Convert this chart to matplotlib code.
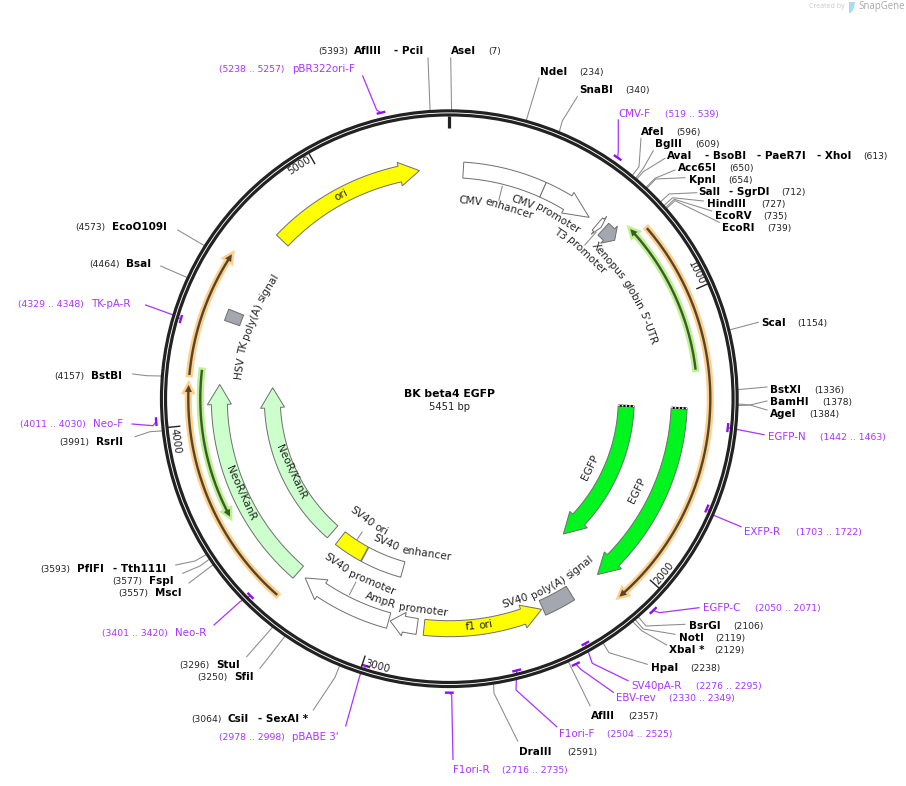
import numpy as np
import matplotlib

matplotlib.use("Agg")
import matplotlib.pyplot as plt
from matplotlib.patches import Circle, Polygon


TITLE = "BK beta4 EGFP"
TOTAL_BP = 5451
RULER_TICKS = [1000, 2000, 3000, 4000, 5000]

# features: bp at the flat end, bp at the tip (equal sense of travel gives the direction)
FEATURE_NAMES = [
    "CMV enhancer", "CMV promoter", "T3 promoter", "Xenopus globin 5'-UTR",
    "EGFP", "EGFP", "SV40 poly(A) signal", "f1 ori", "AmpR promoter",
    "SV40 promoter", "SV40 ori", "SV40 enhancer", "NeoR/KanR", "NeoR/KanR",
    "HSV TK poly(A) signal", "ori",
]
FEATURE_START = [53, 366, 610, 640, 1398, 1398, 2242, 2821, 2847, 2957, 3159, 2956, 3347, 3350, 4379, 4746]
FEATURE_END = [366, 570, 629, 700, 2118, 2118, 2362, 2367, 2951, 3313, 3301, 3156, 4142, 4142, 4423, 5338]

# translated frames, thin arrows
ORF_START = [745, 1261, 3350, 4167, 4189]
ORF_END = [2110, 709, 4134, 4597, 3660]

SITE_NAMES = [
    ["AseI"], ["AflIII", "PciI"], ["NdeI"], ["SnaBI"], ["AfeI"], ["BglII"],
    ["AvaI", "BsoBI", "PaeR7I", "XhoI"], ["Acc65I"], ["KpnI"], ["SalI", "SgrDI"],
    ["HindIII"], ["EcoRV"], ["EcoRI"], ["ScaI"], ["BstXI"], ["BamHI"], ["AgeI"],
    ["BsrGI"], ["NotI"], ["XbaI *"], ["HpaI"], ["AflII"], ["DraIII"],
    ["CsiI", "SexAI *"], ["SfiI"], ["StuI"], ["MscI"], ["FspI"], ["PflFI", "Tth111I"],
    ["RsrII"], ["BstBI"], ["BsaI"], ["EcoO109I"],
]
SITE_BP = [
    7, 5393, 234, 340, 596, 609, 613, 650, 654, 712, 727, 735, 739, 1154, 1336, 1378, 1384,
    2106, 2119, 2129, 2238, 2357, 2591, 3064, 3250, 3296, 3557, 3577, 3593, 3991, 4157, 4464, 4573,
]

PRIMER_NAMES = [
    "CMV-F", "EGFP-N", "EXFP-R", "EGFP-C", "SV40pA-R", "EBV-rev", "F1ori-F", "F1ori-R",
    "pBABE 3'", "Neo-R", "Neo-F", "TK-pA-R", "pBR322ori-F",
]
PRIMER_START = [519, 1442, 1703, 2050, 2276, 2330, 2504, 2716, 2978, 3401, 4011, 4329, 5238]
PRIMER_END = [539, 1463, 1722, 2071, 2295, 2349, 2525, 2735, 2998, 3420, 4030, 4348, 5257]

# layout, all in image pixels
CX, CY, RING_R = 449.3, 398.7, 285.8
FEATURE_R = [229, 229, 229, 229, 230, 177, 229, 230, 230, 230, 177, 177, 230, 177, 230, 230]
FEATURE_HEAD = [0, 26, 3, 8, 21, 21, 0, 20, 14, 20, 0, 0, 20, 20, 0, 20]
FEATURE_COLOR = [
    "white", "white", "white", "#A3A7AF", "#00F51F", "#00F51F", "#A3A7AF", "#FFFF00", "white",
    "white", "#FFFF00", "white", "#CCFFCC", "#CCFFCC", "#A3A7AF", "#FFFF00",
]
LABEL_THETA = [13.7, 27.5, 41.4, 59, 115.9, 115.9, 151.8, 172.5, 191.8, 207, 213.4, 194, 245.7, 245.1, 290.6, 332]
LABEL_R = [199, 210, 198.5, 211, 209, 156.5, 213, 229, 213, 200, 147, 157, 229, 175, 212, 230.7]
LEADERS = [(14, 219, 204.6), (41.4, 222, 205), (213.2, 168, 159.3), (207, 220, 206)]
ORF_R = [261, 248, 261, 261, 249]
ORF_GLOW = ["#FFCF8C", "#BDF08F", "#FFCF8C", "#FFCF8C", "#BDF08F"]
ORF_LINE = ["#54452B", "#3A5B2A", "#54452B", "#54452B", "#3A5B2A"]

SITE_Y = [50, 50, 71, 89, 131, 143, 155, 167, 179, 191, 203, 215, 227, 322, 389, 401, 413,
          625, 637, 649, 667, 715, 751, 718, 676, 664, 592, 580, 568, 441, 375, 263, 226]
SITE_NAME_X = [
    [451], [354, 394], [540], [579], [641], [655], [667, 705, 757, 817], [678], [689], [698, 729],
    [707], [715], [722], [761], [770], [770], [770],
    [689], [679], [669], [651], [591], [519],
    [228, 258], [234], [216], [155], [149], [77, 113],
    [96], [91], [126], [112],
]
SITE_NUM_X = [488, 318, 579, 625, 676, 695, 863, 729, 728, 781, 761, 763, 767, 797, 814, 822, 809,
              733, 715, 714, 690, 628, 567, 191, 197, 179, 118, 112, 40, 59, 54, 89, 75]
SITE_PATH = [
    [(450.7, 58)], [(428, 58)], [(539, 78)], [(562.3, 121), (577.3, 96.7)],
    [(639, 166.7), (641, 138.3)], [(642.7, 169.3), (653.3, 150.7)], [(643.3, 171.7), (665, 158.3)],
    [(655, 178.3), (675, 170)], [(655.7, 179), (685, 177.7)], [(669, 194), (696.7, 192.7)],
    [(672.7, 197.7), (703.3, 201)], [(674.3, 199.3), (711.7, 211)], [(675, 200.7), (719.3, 222.3)],
    [(758.3, 322.3)], [(767, 387)], [(750, 405), (767, 401)], [(750, 405), (767, 410)],
    [(646, 626), (685, 624.3)], [(643.3, 629), (675, 634.3)], [(641.7, 630.7), (666.7, 645)],
    [(609, 652.7), (647.3, 664.3)], [(590, 705.7)], [(494, 693.3), (517.7, 741)],
    [(335, 677.3), (313.3, 710)], [(260, 668.3)], [(246.7, 656.7)], [(189, 583)],
    [(200, 566), (182.7, 573.3)], [(195, 561), (175.7, 565)],
    [(150, 431.7), (135, 436.7)], [(146.7, 375.7), (132.7, 374)], [(160.7, 266)], [(177.7, 230)],
]

PRIMER_R = [294, 280, 280, 294, 280, 294, 280, 294, 280, 280, 294, 280, 294]
PRIMER_NAME_XY = [
    (618, 113), (768, 436), (744, 531), (703, 607), (631, 685), (616, 697), (559, 733),
    (453, 769), (292, 736), (175, 632), (93, 423), (91, 303), (292, 68),
]
PRIMER_RANGE_X = [665, 820, 796, 755, 696, 669, 607, 502, 219, 102, 20, 18, 219]
PRIMER_PATH = [
    [(618.3, 150.7), (618.3, 120)], [(764, 434.7)], [(713, 515), (741, 526.7)],
    [(659.3, 612.7), (699, 607.7)], [(592.3, 663.3), (628, 680.7)], [(580.7, 669.3), (613.3, 692.3)],
    [(516, 690), (556.7, 726.7)], [(451.7, 695), (453, 759.3)], [(360, 675), (345.7, 726)],
    [(240, 601.7), (214, 625)], [(153, 425.7), (132, 424)], [(173.3, 315), (145.7, 305)],
    [(376.7, 110), (362.7, 76)],
]

INK = "#222222"
PURPLE = "#AA33FF"
BAR_PURPLE = "#8F10EE"
GREY_LINE = "#8A8A8A"
NAME_PT, NUM_PT, LABEL_PT, PRIMER_PT, RANGE_PT = 7.5, 6.6, 7.6, 7.4, 6.7


def bp_theta(bp: float) -> float:
    """
    Degrees clockwise from the top of the ring.
    """
    return bp / TOTAL_BP * 360.0


def polar(theta: float, r: float) -> tuple:
    """
    Pixel position for a clockwise angle and a radius.
    """
    t = np.radians(theta)
    return CX + r * np.sin(t), CY - r * np.cos(t)


def draw_arrow(ax, start, end, r, width, head_px, head_width, **style) -> None:
    """
    Curved box or arrow, from bp start to bp end.
    """
    t0, t1 = bp_theta(start), bp_theta(end)
    sense = 1.0 if t1 > t0 else -1.0
    t_base = t1 - sense * np.degrees(head_px / r)
    ts = np.linspace(t0, t_base, 80)
    outer = [polar(t, r + width / 2) for t in ts]
    inner = [polar(t, r - width / 2) for t in ts[::-1]]
    if head_px > 0:
        head = [polar(t_base, r + head_width / 2), polar(t1, r), polar(t_base, r - head_width / 2)]
    else:
        head = []
    ax.add_patch(Polygon(outer + head + inner, closed=True, **style))


def curved_label(fig, ax, text, theta, r, **style) -> None:
    """
    Word by word text that follows the ring, centred on theta.
    """
    flipped = 90 < (theta % 360) < 270
    renderer = fig.canvas.get_renderer()

    def width_of(s):
        t = ax.text(0, 0, s, **style)
        w = t.get_window_extent(renderer).width
        t.remove()
        return w

    words = text.split(" ")
    widths = [width_of(w) for w in words]
    gap = (width_of("a a") - width_of("aa")) * 0.85
    total = sum(widths) + gap * (len(words) - 1)
    s = -total / 2
    for word, w in zip(words, widths):
        mid = s + w / 2
        delta = np.degrees(mid / r)
        th = theta - delta if flipped else theta + delta
        rot = 180 - th if flipped else -th
        x, y = polar(th, r)
        ax.text(x, y, word, rotation=rot, rotation_mode="anchor", ha="center", va="center", **style)
        s += w + gap


def base_text(ax, x, y_mid, text, **style) -> None:
    """
    Left aligned text, y is the middle of the capitals.
    """
    ax.text(x, y_mid + 3.8, text, ha="left", va="baseline", **style)


def main() -> None:
    """
    Build the plasmid map and save it.
    """
    plt.rcParams["font.family"] = ["DejaVu Sans"]
    fig = plt.figure(figsize=(9.06, 7.86), dpi=100)
    ax = fig.add_axes([0, 0, 1, 1])
    ax.set_xlim(0, 906)
    ax.set_ylim(786, 0)
    ax.axis("off")

    # enzyme leader lines and labels
    for names, bp, y, xs, num_x, path in zip(SITE_NAMES, SITE_BP, SITE_Y, SITE_NAME_X, SITE_NUM_X, SITE_PATH):
        pts = [polar(bp_theta(bp), RING_R)] + path
        ax.plot(*zip(*pts), color=GREY_LINE, lw=0.75, solid_joinstyle="round", zorder=1)
        for i, (name, x) in enumerate(zip(names, xs)):
            base_text(ax, x, y, name if i == 0 else "- " + name, fontsize=NAME_PT, fontweight="bold", color="black")
        base_text(ax, num_x, y, f"({bp})", fontsize=NUM_PT, color=INK)

    # primers
    for name, a, b, r, xy, range_x, path in zip(
        PRIMER_NAMES, PRIMER_START, PRIMER_END, PRIMER_R, PRIMER_NAME_XY, PRIMER_RANGE_X, PRIMER_PATH
    ):
        mid = polar(bp_theta((a + b) / 2), r)
        ax.plot(*zip(*([mid] + path)), color=PURPLE, lw=0.9, zorder=1)
        ts = np.linspace(bp_theta(a), bp_theta(b), 6)
        ax.plot(*zip(*[polar(t, r) for t in ts]), color=BAR_PURPLE, lw=1.7, solid_capstyle="projecting", zorder=1)
        base_text(ax, xy[0], xy[1], name, fontsize=PRIMER_PT, color=PURPLE)
        base_text(ax, range_x, xy[1], f"({a} .. {b})", fontsize=RANGE_PT, color=PURPLE)

    # ring
    ax.add_patch(Circle((CX, CY), RING_R, fill=False, ec=INK, lw=5.2, zorder=3))
    ax.add_patch(Circle((CX, CY), RING_R, fill=False, ec="white", lw=0.65, zorder=3))
    ax.plot(*zip(polar(0, 283), polar(0, 271)), color=INK, lw=2.3, solid_capstyle="butt", zorder=3)
    for tick in RULER_TICKS:
        th = bp_theta(tick)
        ax.plot(*zip(polar(th, 283), polar(th, 271)), color=INK, lw=1.0, zorder=3)
        curved_label(fig, ax, str(tick), th - 3.0, 277, fontsize=7.3, color=INK)

    # thin orange and green frames
    for a, b, r, glow, line in zip(ORF_START, ORF_END, ORF_R, ORF_GLOW, ORF_LINE):
        draw_arrow(ax, a, b, r, 2.4, 7, 7, fc=glow, ec=glow, lw=3.4, joinstyle="miter", zorder=2)
        draw_arrow(ax, a, b, r, 2.4, 7, 7, fc=line, ec="none", zorder=2.1)

    # feature arrows
    for name, a, b, r, head, color, lab_t, lab_r in zip(
        FEATURE_NAMES, FEATURE_START, FEATURE_END, FEATURE_R, FEATURE_HEAD,
        FEATURE_COLOR, LABEL_THETA, LABEL_R
    ):
        draw_arrow(ax, a, b, r, 16, head, 24, fc=color, ec="#6E6E6E", lw=0.7, joinstyle="miter", zorder=2)
        curved_label(fig, ax, name, lab_t, lab_r, fontsize=LABEL_PT, color=INK, zorder=4)

    # the two EGFP arrows start on a broken edge
    for r in (230, 177):
        th = bp_theta(FEATURE_START[4])
        ends = [polar(th, r - 8), polar(th, r + 8)]
        ax.plot(*zip(*ends), color="black", lw=1.5, solid_capstyle="butt", zorder=3)
        ax.plot(*zip(*ends), color="white", lw=1.1, dashes=(1.0, 1.4), zorder=3.1)

    for th, r0, r1 in LEADERS:
        ax.plot(*zip(polar(th, r0), polar(th, r1)), color=GREY_LINE, lw=0.75, zorder=1)

    ax.text(449.5, 394, TITLE, ha="center", va="center", fontsize=7.8, fontweight="bold", color="black")
    ax.text(449.5, 407, f"{TOTAL_BP} bp", ha="center", va="center", fontsize=7.2, color=INK)

    # watermark
    ax.text(809, 7, "Created by", ha="left", va="center", fontsize=5.0, color="#C9C9C9", family="Open Sans")
    ax.text(858, 7, "SnapGene", ha="left", va="center", fontsize=6.9, color="#A9A9A9", family="Open Sans")
    ax.add_patch(Polygon([(849, 2), (855, 2), (854, 8), (851, 13), (849, 13)], closed=True, fc="#A6DDF5", ec="none"))

    fig.savefig("out.png", dpi=100)


if __name__ == "__main__":
    main()
